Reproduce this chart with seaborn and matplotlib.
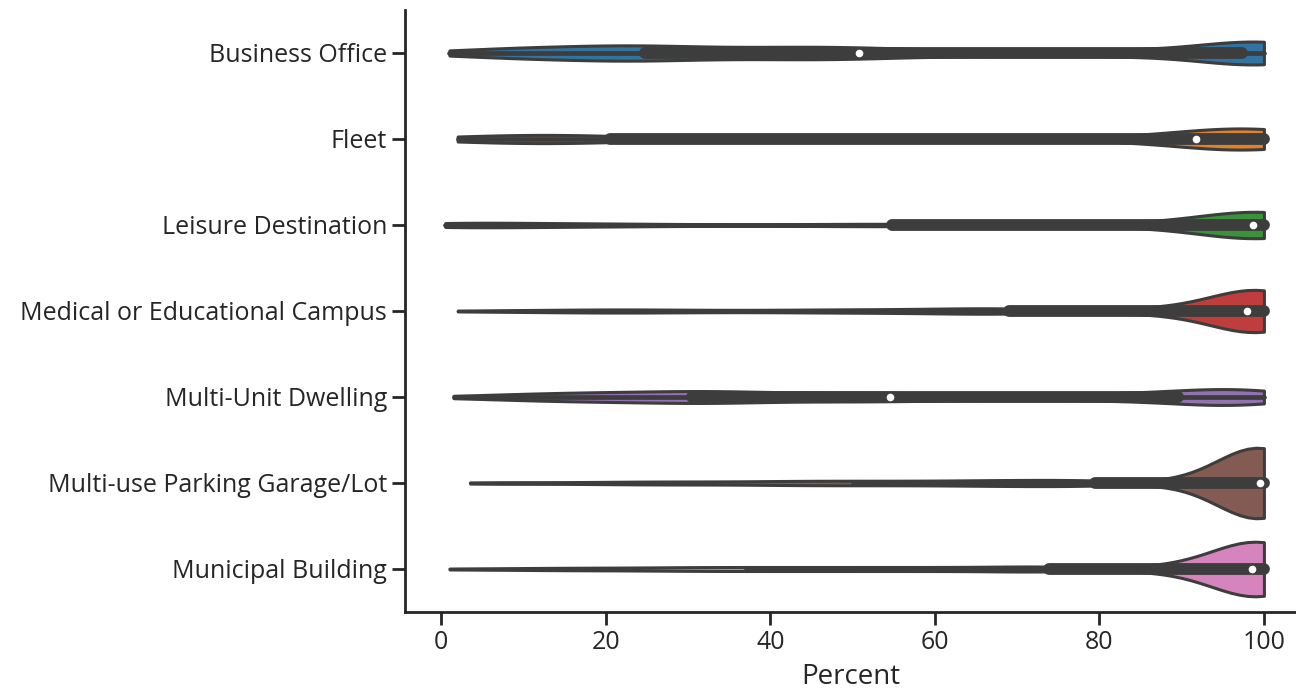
import numpy as np
import pandas as pd
import matplotlib
matplotlib.use("Agg")
import matplotlib.pyplot as plt
import seaborn as sns

categories = ["Business Office", "Fleet", "Leisure Destination",
              "Medical or Educational Campus", "Multi-Unit Dwelling",
              "Multi-use Parking Garage/Lot", "Municipal Building"]

business_vals = [1, 3.5, 6, 8.5, 11, 13.5, 16, 18.5, 21, 23, 24.5,
                 24.9, 27, 30, 33, 36, 39, 42, 45, 48, 50.4,
                 51.2, 54, 57, 60, 63, 66, 69, 72, 75, 78, 81, 84, 87, 90, 93, 95, 96.8,
                 99, 100]
business_counts = [2, 3, 4, 4, 5, 5, 5, 5, 5, 6, 6,
                   2, 5, 5, 5, 5, 5, 6, 6, 6, 5,
                   3, 3, 3, 3, 3, 3, 3, 3, 3, 3, 3, 3, 3, 3, 3, 3, 2,
                   15, 35]

fleet_vals = [2, 4, 6, 8, 10, 12, 14, 16, 18, 20, 20.7, 25, 30, 35, 40, 45, 50, 55, 60, 65,
              70, 75, 80, 84, 88, 91, 92.4, 94, 96, 98, 100]
fleet_counts = [5, 4, 4, 5, 5, 5, 5, 5, 6, 6, 1, 2, 2, 2, 3, 3, 3, 3, 3, 3,
                3, 3, 4, 4, 5, 6, 10, 12, 12, 14, 52]

leisure_vals = [0.5, 2, 5, 8, 11, 14, 17, 20, 24, 28, 33, 38, 43, 48, 52, 54.2,
                55, 58, 61, 64, 67, 70, 73, 76, 79, 82, 85, 88, 91, 94, 96, 98, 99.4, 100]
leisure_counts = [8, 4, 4, 3, 3, 3, 3, 3, 3, 2, 2, 2, 2, 2, 3, 3,
                  1, 1, 1, 1, 1, 2, 2, 2, 2, 3, 3, 4, 5, 6, 7, 9, 25, 75]

medical_vals = [2, 6, 10, 14, 18, 22, 26, 30, 34, 38, 42, 46, 50, 54, 58, 62, 66, 68.6,
                69.2, 72, 75, 78, 81, 84, 87, 90, 92, 94, 96, 97.6, 98.4, 99, 99.5, 100]
medical_counts = [1, 1, 2, 2, 3, 3, 3, 2, 2, 2, 2, 3, 3, 3, 4, 4, 5, 5,
                  1, 1, 2, 2, 2, 3, 4, 5, 6, 7, 8, 9, 10, 10, 10, 70]

multi_unit_vals = [1.5, 4, 7, 10, 13, 16, 19, 22, 25, 28, 30,
                   30.7, 32, 34, 36, 38, 41, 44, 47, 50, 52, 54.2,
                   55, 58, 61, 64, 67, 70, 73, 76, 79, 82, 85, 87.5, 89.2,
                   90.8, 93, 95, 97, 99, 100]
multi_unit_counts = [1, 2, 3, 4, 5, 6, 6, 6, 6, 6, 5,
                     2, 5, 5, 5, 5, 5, 5, 5, 5, 4, 4,
                     3, 4, 4, 4, 4, 4, 4, 4, 4, 4, 4, 4, 3,
                     6, 8, 9, 9, 9, 9]

parking_vals = [3.5, 7, 10, 14, 18, 22, 26, 30, 34, 38, 42, 46, 50, 54, 58, 62, 66, 70, 74, 78,
                80, 83, 86, 89, 92, 94, 96, 97, 98, 99, 100]
parking_counts = [1, 1, 1, 1, 1, 2, 2, 2, 2, 2, 3, 3, 3, 3, 3, 3, 4, 4, 4, 5,
                  1, 1, 1, 2, 3, 5, 9, 8, 10, 10, 100]

municipal_vals = [1, 5, 9, 13, 17, 21, 25, 29, 33, 37, 41, 45, 49, 53, 57, 61, 65, 69, 73,
                  74.2, 77, 80, 83, 86, 89, 91, 93, 95, 97, 98.2, 99, 100]
municipal_counts = [1, 1, 1, 2, 2, 2, 2, 3, 3, 3, 3, 3, 3, 3, 3, 3, 3, 3, 6,
                    1, 1, 1, 2, 2, 3, 4, 6, 8, 10, 12, 20, 80]

# relative number of sites per category (sets how wide each violin gets)
sites_scale = [13, 12, 15, 24, 9, 40, 31]

all_vals = [business_vals, fleet_vals, leisure_vals, medical_vals,
            multi_unit_vals, parking_vals, municipal_vals]
all_counts = [business_counts, fleet_counts, leisure_counts, medical_counts,
              multi_unit_counts, parking_counts, municipal_counts]

frames = []
for cat, vals, cnts, k in zip(categories, all_vals, all_counts, sites_scale):
    pct = np.repeat(vals, np.array(cnts) * k)
    frames.append(pd.DataFrame({"Type": cat, "Percent": pct}))
df = pd.concat(frames, ignore_index=True)

sns.set_theme(style="ticks")
plt.rcParams["font.family"] = ["Open Sans", "DejaVu Sans"]

fig = plt.figure(figsize=(12.96, 6.89), dpi=100)
ax = fig.add_axes([405 / 1296, 77 / 689, (1296 - 405) / 1296, 602 / 689])

sns.violinplot(data=df, x="Percent", y="Type", hue="Type", order=categories,
               hue_order=categories, palette="tab10", cut=0, inner="box",
               density_norm="count", common_norm=True, bw_method=0.2,
               width=0.82, linewidth=2.2, linecolor="#3d3d3d", legend=False, ax=ax,
               inner_kws=dict(box_width=8.5, whis_width=3.4, marker="o",
                              markersize=3.8))

ax.set_xlim(-4.4, 103.9)
ax.set_ylim(6.5, -0.5)
ax.set_xticks([0, 20, 40, 60, 80, 100])
ax.set_xlabel("Percent", fontsize=20, color="#262626", labelpad=6)
ax.set_ylabel("")
ax.tick_params(axis="both", labelsize=18, length=9.5, width=2, colors="#262626")
for s in ["left", "bottom"]:
    ax.spines[s].set_linewidth(2)
    ax.spines[s].set_color("#262626")
sns.despine(ax=ax)

fig.savefig("out.png", dpi=100)
